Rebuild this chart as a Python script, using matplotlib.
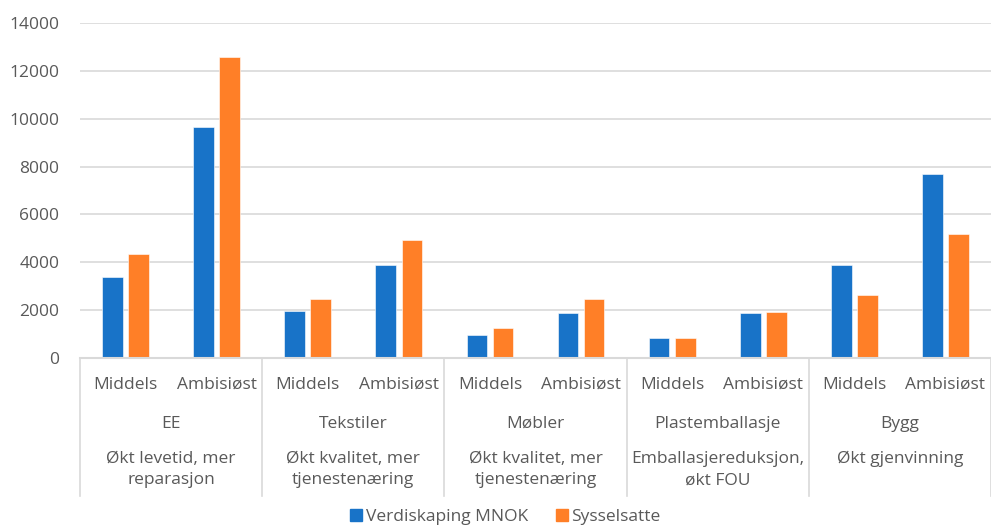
import matplotlib
matplotlib.use("Agg")
import matplotlib.pyplot as plt
from matplotlib.patches import Patch
import numpy as np

# Data
sectors = ["EE", "Tekstiler", "Møbler", "Plastemballasje", "Bygg"]
measures = [
    "Økt levetid, mer\nreparasjon",
    "Økt kvalitet, mer\ntjenestenæring",
    "Økt kvalitet, mer\ntjenestenæring",
    "Emballasjereduksjon,\nøkt FOU",
    "Økt gjenvinning",
]
scenarios = ["Middels", "Ambisiøst"]

verdiskaping = [3400, 9650, 1950, 3900, 950, 1870, 820, 1870, 3900, 7670]
sysselsatte = [4330, 12560, 2470, 4920, 1240, 2470, 850, 1940, 2630, 5170]

BLUE = "#1873C8"
ORANGE = "#FF7F27"
GRID = "#D9D9D9"
TEXT = "#595959"

plt.rcParams["font.family"] = ["Open Sans", "DejaVu Sans"]
FS = 12.5

W, H = 991, 527
fig = plt.figure(figsize=(W / 100, H / 100), dpi=100)
x0, x1, ytop, ybot = 80, 991, 23, 358
ax = fig.add_axes([x0 / W, (H - ybot) / H, (x1 - x0) / W, (ybot - ytop) / H])

n = len(verdiskaping)
x = np.arange(n)
width = 0.227
off = 0.143
ax.bar(x - off, verdiskaping, width, color=BLUE, edgecolor="white", linewidth=0.4)
ax.bar(x + off, sysselsatte, width, color=ORANGE, edgecolor="white", linewidth=0.4)

ax.set_xlim(-0.5, n - 0.5)
ax.set_ylim(0, 14000)
ax.set_yticks(np.arange(0, 14001, 2000))
ax.yaxis.grid(True, color=GRID, linewidth=1.2)
ax.set_axisbelow(True)
for s in ax.spines.values():
    s.set_visible(False)
ax.tick_params(axis="y", length=0, labelsize=FS, labelcolor=TEXT, pad=15)
ax.set_xticks([])


def ypos(px):
    return (ybot - px) / (ybot - ytop)


tr = ax.get_xaxis_transform()
ax.plot([-0.5, n - 0.5], [0, 0], color=GRID, linewidth=1.5, transform=tr, clip_on=False)

# level 1: scenarios
for i in range(n):
    ax.text(x[i], ypos(385), scenarios[i % 2], transform=tr, ha="center", va="center",
            fontsize=FS, color=TEXT)

# level 2 and 3: sector and measure
for j, (sec, mea) in enumerate(zip(sectors, measures)):
    c = 2 * j + 0.5
    ax.text(c, ypos(424), sec, transform=tr, ha="center", va="center", fontsize=FS, color=TEXT)
    ax.text(c, ypos(451), mea, transform=tr, ha="center", va="top", fontsize=FS, color=TEXT,
            linespacing=1.45)

# group separators
for b in np.arange(-0.5, n, 2):
    ax.plot([b, b], [0, ypos(496)], color=GRID, linewidth=1.2, transform=tr, clip_on=False)

handles = [Patch(color=BLUE, label="Verdiskaping MNOK"), Patch(color=ORANGE, label="Sysselsatte")]
leg = fig.legend(handles=handles, loc="center", bbox_to_anchor=(0.51, (H - 517) / H), ncol=2,
                 frameon=False, fontsize=FS, handlelength=0.7, handleheight=0.7,
                 handletextpad=0.2, columnspacing=1.6, borderaxespad=0)
for t in leg.get_texts():
    t.set_color(TEXT)

fig.savefig("out.png", dpi=100)
